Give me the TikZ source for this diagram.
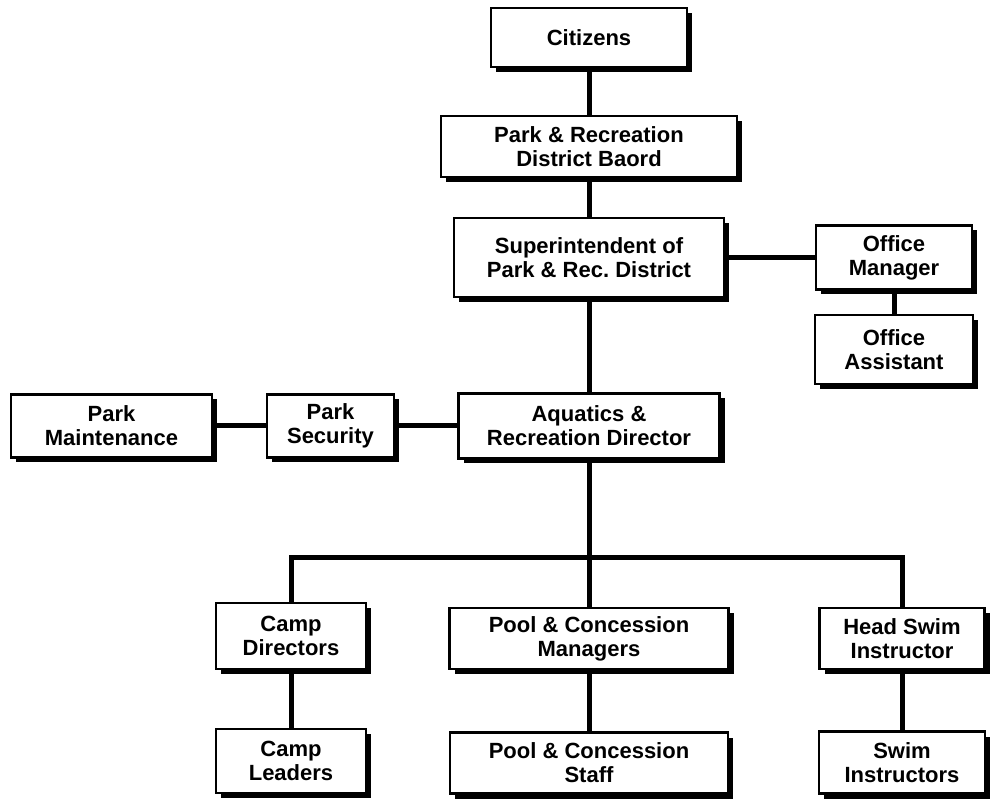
\documentclass[tikz,border=0pt]{standalone}
\usepackage{fontspec}
\setmainfont{Liberation Sans}
\usetikzlibrary{shadows}
\frenchspacing

\begin{document}
\begin{tikzpicture}[x=1pt,y=-1pt,
    box/.style={draw=black, line width=2.5pt, fill=white, align=center, inner sep=0pt,
        font=\fontsize{22}{24}\selectfont\bfseries,
        drop shadow={shadow xshift=5pt, shadow yshift=-5pt, fill=black, opacity=1}},
    link/.style={line width=5pt}]
    \useasboundingbox (0,0) rectangle (991,799);

    % top of the chart
    \node[box, minimum width=196pt, minimum height=59pt] (citizens) at (589,37.5) {Citizens};
    \node[box, minimum width=296pt, minimum height=61pt] (board) at (589,146.5) {Park \& Recreation\\District Baord};
    \node[box, minimum width=270pt, minimum height=79pt] (super) at (589,257.5) {Superintendent of\\Park \& Rec. District};
    \node[box, minimum width=156pt, minimum height=64pt] (officemgr) at (894,257.5) {Office\\Manager};
    \node[box, minimum width=158pt, minimum height=69pt] (officeasst) at (894,349.5) {Office\\Assistant};

    % middle row
    \node[box, minimum width=201pt, minimum height=63pt] (parkmaint) at (111.5,426) {Park\\Maintenance};
    \node[box, minimum width=127pt, minimum height=63pt] (parksec) at (330.5,426) {Park\\Security};
    \node[box, minimum width=261pt, minimum height=65pt] (aquatics) at (589,426) {Aquatics \&\\Recreation Director};

    % bottom rows
    \node[box, minimum width=150pt, minimum height=66pt] (campdir) at (291,636) {Camp\\Directors};
    \node[box, minimum width=279pt, minimum height=61pt] (poolmgr) at (589,638.5) {Pool \& Concession\\Managers};
    \node[box, minimum width=165pt, minimum height=61pt] (headswim) at (902,638.5) {Head Swim\\Instructor};
    \node[box, minimum width=150pt, minimum height=64pt] (campldr) at (291,761) {Camp\\Leaders};
    \node[box, minimum width=278pt, minimum height=61pt] (poolstaff) at (589,763) {Pool \& Concession\\Staff};
    \node[box, minimum width=166pt, minimum height=62pt] (swiminst) at (902,762.5) {Swim\\Instructors};

    \coordinate (bus) at (589,557);

    \draw[link] (citizens) -- (board);
    \draw[link] (board) -- (super);
    \draw[link] (super) -- (officemgr);
    \draw[link] (officemgr) -- (officeasst);
    \draw[link] (super) -- (aquatics);
    \draw[link] (aquatics) -- (parksec);
    \draw[link] (parksec) -- (parkmaint);
    \draw[link] (aquatics) -- (bus);
    \draw[link] (campdir.north) |- (bus) -| (headswim.north);
    \draw[link] (bus) -- (poolmgr);
    \draw[link] (campdir) -- (campldr);
    \draw[link] (poolmgr) -- (poolstaff);
    \draw[link] (headswim) -- (swiminst);

\end{tikzpicture}
\end{document}
